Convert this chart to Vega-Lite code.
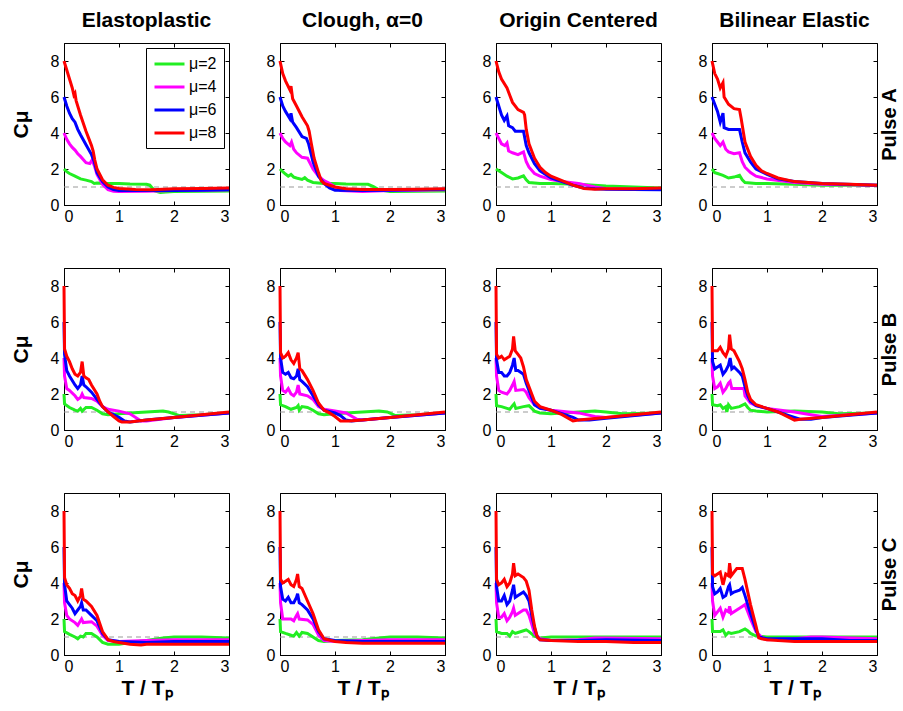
{
"$schema": "https://vega.github.io/schema/vega-lite/v6.json",
"padding": {"left": 9, "top": 9, "right": 0, "bottom": 5},
"background": "white",
"config": {
 "font": "Liberation Sans",
 "view": {"stroke": "black", "strokeWidth": 1},
 "axis": {"grid": false, "domainColor": "black", "tickColor": "black", "labelColor": "black", "labelFontSize": 16, "tickSize": -4, "titleFontSize": 21, "titleFontWeight": "bold", "titleColor": "black"},
 "axisX": {"labelPadding": 7},
 "axisY": {"labelPadding": 9},
 "title": {"fontSize": 21, "fontWeight": "bold", "color": "black", "offset": 12, "frame": "group"},
 "legend": {"strokeColor": "black", "fillColor": "white", "padding": 7, "labelFontSize": 16, "labelColor": "black", "symbolStrokeWidth": 3, "cornerRadius": 0}
},
"datasets": {
"A1": [
{"u":"μ=2","x":0,"y":2},{"u":"μ=2","x":0.05,"y":1.85},{"u":"μ=2","x":0.1,"y":1.75},{"u":"μ=2","x":0.2,"y":1.6},{"u":"μ=2","x":0.3,"y":1.45},{"u":"μ=2","x":0.4,"y":1.38},{"u":"μ=2","x":0.5,"y":1.3},{"u":"μ=2","x":0.55,"y":1.2},{"u":"μ=2","x":0.6,"y":1.22},{"u":"μ=2","x":0.8,"y":1.2},{"u":"μ=2","x":1.0,"y":1.2},{"u":"μ=2","x":1.2,"y":1.17},{"u":"μ=2","x":1.5,"y":1.15},{"u":"μ=2","x":1.56,"y":1.1},{"u":"μ=2","x":1.65,"y":0.78},{"u":"μ=2","x":1.75,"y":0.7},{"u":"μ=2","x":1.85,"y":0.72},{"u":"μ=2","x":2.0,"y":0.75},{"u":"μ=2","x":2.5,"y":0.76},{"u":"μ=2","x":3,"y":0.78},
{"u":"μ=4","x":0,"y":4},{"u":"μ=4","x":0.05,"y":3.65},{"u":"μ=4","x":0.1,"y":3.4},{"u":"μ=4","x":0.15,"y":3.2},{"u":"μ=4","x":0.2,"y":3.05},{"u":"μ=4","x":0.25,"y":2.85},{"u":"μ=4","x":0.3,"y":2.7},{"u":"μ=4","x":0.4,"y":2.35},{"u":"μ=4","x":0.47,"y":2.3},{"u":"μ=4","x":0.51,"y":2.5},{"u":"μ=4","x":0.55,"y":2.2},{"u":"μ=4","x":0.6,"y":1.7},{"u":"μ=4","x":0.7,"y":1.15},{"u":"μ=4","x":0.8,"y":0.85},{"u":"μ=4","x":0.9,"y":0.76},{"u":"μ=4","x":1.0,"y":0.75},{"u":"μ=4","x":1.5,"y":0.76},{"u":"μ=4","x":2,"y":0.8},{"u":"μ=4","x":2.5,"y":0.82},{"u":"μ=4","x":3,"y":0.85},
{"u":"μ=6","x":0,"y":6},{"u":"μ=6","x":0.05,"y":5.5},{"u":"μ=6","x":0.1,"y":5.1},{"u":"μ=6","x":0.15,"y":4.8},{"u":"μ=6","x":0.2,"y":4.6},{"u":"μ=6","x":0.25,"y":4.2},{"u":"μ=6","x":0.3,"y":3.9},{"u":"μ=6","x":0.4,"y":3.35},{"u":"μ=6","x":0.5,"y":2.8},{"u":"μ=6","x":0.55,"y":2.4},{"u":"μ=6","x":0.6,"y":1.8},{"u":"μ=6","x":0.7,"y":1.3},{"u":"μ=6","x":0.8,"y":1.0},{"u":"μ=6","x":0.9,"y":0.86},{"u":"μ=6","x":1.0,"y":0.8},{"u":"μ=6","x":1.5,"y":0.8},{"u":"μ=6","x":2,"y":0.8},{"u":"μ=6","x":2.5,"y":0.82},{"u":"μ=6","x":3,"y":0.85},
{"u":"μ=8","x":0,"y":8},{"u":"μ=8","x":0.05,"y":7.5},{"u":"μ=8","x":0.1,"y":7.0},{"u":"μ=8","x":0.15,"y":6.5},{"u":"μ=8","x":0.18,"y":6.1},{"u":"μ=8","x":0.2,"y":6.2},{"u":"μ=8","x":0.22,"y":5.8},{"u":"μ=8","x":0.3,"y":5.0},{"u":"μ=8","x":0.4,"y":4.1},{"u":"μ=8","x":0.45,"y":3.7},{"u":"μ=8","x":0.5,"y":3.3},{"u":"μ=8","x":0.53,"y":3.0},{"u":"μ=8","x":0.56,"y":2.5},{"u":"μ=8","x":0.6,"y":2.0},{"u":"μ=8","x":0.7,"y":1.4},{"u":"μ=8","x":0.8,"y":1.1},{"u":"μ=8","x":0.9,"y":0.98},{"u":"μ=8","x":1.0,"y":0.92},{"u":"μ=8","x":1.3,"y":0.86},{"u":"μ=8","x":1.6,"y":0.85},{"u":"μ=8","x":2,"y":0.9},{"u":"μ=8","x":2.5,"y":0.92},{"u":"μ=8","x":3,"y":0.95}
],
"A2": [
{"u":"μ=2","x":0,"y":2},{"u":"μ=2","x":0.05,"y":1.85},{"u":"μ=2","x":0.1,"y":1.72},{"u":"μ=2","x":0.15,"y":1.6},{"u":"μ=2","x":0.2,"y":1.7},{"u":"μ=2","x":0.25,"y":1.55},{"u":"μ=2","x":0.3,"y":1.5},{"u":"μ=2","x":0.4,"y":1.42},{"u":"μ=2","x":0.45,"y":1.52},{"u":"μ=2","x":0.5,"y":1.38},{"u":"μ=2","x":0.6,"y":1.25},{"u":"μ=2","x":0.8,"y":1.2},{"u":"μ=2","x":1.0,"y":1.2},{"u":"μ=2","x":1.2,"y":1.17},{"u":"μ=2","x":1.6,"y":1.15},{"u":"μ=2","x":1.7,"y":1.02},{"u":"μ=2","x":1.8,"y":0.85},{"u":"μ=2","x":2,"y":0.75},{"u":"μ=2","x":2.5,"y":0.76},{"u":"μ=2","x":3,"y":0.78},
{"u":"μ=4","x":0,"y":4},{"u":"μ=4","x":0.05,"y":3.7},{"u":"μ=4","x":0.1,"y":3.5},{"u":"μ=4","x":0.18,"y":3.3},{"u":"μ=4","x":0.21,"y":3.5},{"u":"μ=4","x":0.25,"y":3.1},{"u":"μ=4","x":0.3,"y":2.9},{"u":"μ=4","x":0.4,"y":2.65},{"u":"μ=4","x":0.5,"y":2.6},{"u":"μ=4","x":0.55,"y":2.3},{"u":"μ=4","x":0.6,"y":2.0},{"u":"μ=4","x":0.7,"y":1.6},{"u":"μ=4","x":0.8,"y":1.35},{"u":"μ=4","x":0.9,"y":1.2},{"u":"μ=4","x":1.0,"y":1.0},{"u":"μ=4","x":1.1,"y":0.8},{"u":"μ=4","x":1.5,"y":0.75},{"u":"μ=4","x":2,"y":0.8},{"u":"μ=4","x":2.5,"y":0.82},{"u":"μ=4","x":3,"y":0.85},
{"u":"μ=6","x":0,"y":6},{"u":"μ=6","x":0.05,"y":5.5},{"u":"μ=6","x":0.1,"y":5.2},{"u":"μ=6","x":0.18,"y":4.8},{"u":"μ=6","x":0.2,"y":5.1},{"u":"μ=6","x":0.23,"y":4.6},{"u":"μ=6","x":0.3,"y":4.3},{"u":"μ=6","x":0.4,"y":3.8},{"u":"μ=6","x":0.48,"y":3.7},{"u":"μ=6","x":0.52,"y":3.4},{"u":"μ=6","x":0.6,"y":2.4},{"u":"μ=6","x":0.7,"y":1.6},{"u":"μ=6","x":0.8,"y":1.2},{"u":"μ=6","x":0.9,"y":0.95},{"u":"μ=6","x":1.0,"y":0.82},{"u":"μ=6","x":1.5,"y":0.8},{"u":"μ=6","x":2,"y":0.82},{"u":"μ=6","x":2.5,"y":0.85},{"u":"μ=6","x":3,"y":0.88},
{"u":"μ=8","x":0,"y":8},{"u":"μ=8","x":0.05,"y":7.3},{"u":"μ=8","x":0.1,"y":6.9},{"u":"μ=8","x":0.18,"y":6.4},{"u":"μ=8","x":0.2,"y":6.6},{"u":"μ=8","x":0.23,"y":5.9},{"u":"μ=8","x":0.3,"y":5.5},{"u":"μ=8","x":0.4,"y":4.9},{"u":"μ=8","x":0.5,"y":4.4},{"u":"μ=8","x":0.53,"y":4.1},{"u":"μ=8","x":0.57,"y":3.4},{"u":"μ=8","x":0.62,"y":2.6},{"u":"μ=8","x":0.7,"y":1.8},{"u":"μ=8","x":0.75,"y":1.35},{"u":"μ=8","x":0.8,"y":1.2},{"u":"μ=8","x":0.9,"y":1.1},{"u":"μ=8","x":1.0,"y":1.0},{"u":"μ=8","x":1.2,"y":0.9},{"u":"μ=8","x":1.5,"y":0.86},{"u":"μ=8","x":2,"y":0.86},{"u":"μ=8","x":2.5,"y":0.88},{"u":"μ=8","x":3,"y":0.9}
],
"A3": [
{"u":"μ=2","x":0,"y":2},{"u":"μ=2","x":0.05,"y":1.9},{"u":"μ=2","x":0.1,"y":1.8},{"u":"μ=2","x":0.2,"y":1.6},{"u":"μ=2","x":0.3,"y":1.45},{"u":"μ=2","x":0.4,"y":1.5},{"u":"μ=2","x":0.5,"y":1.62},{"u":"μ=2","x":0.55,"y":1.4},{"u":"μ=2","x":0.6,"y":1.25},{"u":"μ=2","x":0.8,"y":1.2},{"u":"μ=2","x":1.0,"y":1.2},{"u":"μ=2","x":1.5,"y":1.15},{"u":"μ=2","x":2,"y":1.05},{"u":"μ=2","x":2.5,"y":1.0},{"u":"μ=2","x":3,"y":0.95},
{"u":"μ=4","x":0,"y":4},{"u":"μ=4","x":0.05,"y":3.7},{"u":"μ=4","x":0.1,"y":3.4},{"u":"μ=4","x":0.16,"y":3.3},{"u":"μ=4","x":0.2,"y":3.45},{"u":"μ=4","x":0.23,"y":3.0},{"u":"μ=4","x":0.3,"y":2.9},{"u":"μ=4","x":0.4,"y":2.8},{"u":"μ=4","x":0.5,"y":2.95},{"u":"μ=4","x":0.55,"y":2.4},{"u":"μ=4","x":0.6,"y":2.1},{"u":"μ=4","x":0.7,"y":1.75},{"u":"μ=4","x":0.8,"y":1.6},{"u":"μ=4","x":1.0,"y":1.42},{"u":"μ=4","x":1.2,"y":1.3},{"u":"μ=4","x":1.5,"y":1.2},{"u":"μ=4","x":1.8,"y":1.0},{"u":"μ=4","x":2,"y":0.9},{"u":"μ=4","x":2.5,"y":0.88},{"u":"μ=4","x":3,"y":0.9},
{"u":"μ=6","x":0,"y":6},{"u":"μ=6","x":0.05,"y":5.5},{"u":"μ=6","x":0.1,"y":5.0},{"u":"μ=6","x":0.15,"y":4.7},{"u":"μ=6","x":0.2,"y":4.95},{"u":"μ=6","x":0.23,"y":4.4},{"u":"μ=6","x":0.3,"y":4.3},{"u":"μ=6","x":0.35,"y":4.1},{"u":"μ=6","x":0.5,"y":4.1},{"u":"μ=6","x":0.55,"y":3.3},{"u":"μ=6","x":0.6,"y":2.9},{"u":"μ=6","x":0.7,"y":2.3},{"u":"μ=6","x":0.8,"y":1.9},{"u":"μ=6","x":1.0,"y":1.5},{"u":"μ=6","x":1.2,"y":1.3},{"u":"μ=6","x":1.4,"y":1.1},{"u":"μ=6","x":1.6,"y":0.95},{"u":"μ=6","x":1.8,"y":0.9},{"u":"μ=6","x":2,"y":0.87},{"u":"μ=6","x":3,"y":0.85},
{"u":"μ=8","x":0,"y":8},{"u":"μ=8","x":0.05,"y":7.4},{"u":"μ=8","x":0.1,"y":7.0},{"u":"μ=8","x":0.2,"y":6.5},{"u":"μ=8","x":0.25,"y":6.1},{"u":"μ=8","x":0.3,"y":5.7},{"u":"μ=8","x":0.4,"y":5.3},{"u":"μ=8","x":0.5,"y":5.15},{"u":"μ=8","x":0.52,"y":5.0},{"u":"μ=8","x":0.55,"y":4.2},{"u":"μ=8","x":0.6,"y":3.4},{"u":"μ=8","x":0.7,"y":2.6},{"u":"μ=8","x":0.8,"y":2.1},{"u":"μ=8","x":0.9,"y":1.8},{"u":"μ=8","x":1.0,"y":1.6},{"u":"μ=8","x":1.2,"y":1.35},{"u":"μ=8","x":1.4,"y":1.1},{"u":"μ=8","x":1.6,"y":0.92},{"u":"μ=8","x":1.8,"y":0.87},{"u":"μ=8","x":2,"y":0.9},{"u":"μ=8","x":2.5,"y":0.9},{"u":"μ=8","x":3,"y":0.95}
],
"A4": [
{"u":"μ=2","x":0,"y":2},{"u":"μ=2","x":0.05,"y":1.8},{"u":"μ=2","x":0.1,"y":1.75},{"u":"μ=2","x":0.2,"y":1.65},{"u":"μ=2","x":0.3,"y":1.5},{"u":"μ=2","x":0.4,"y":1.55},{"u":"μ=2","x":0.5,"y":1.65},{"u":"μ=2","x":0.55,"y":1.4},{"u":"μ=2","x":0.6,"y":1.25},{"u":"μ=2","x":0.8,"y":1.2},{"u":"μ=2","x":1.0,"y":1.2},{"u":"μ=2","x":1.5,"y":1.15},{"u":"μ=2","x":2,"y":1.1},{"u":"μ=2","x":3,"y":1.1},
{"u":"μ=4","x":0,"y":4},{"u":"μ=4","x":0.05,"y":3.7},{"u":"μ=4","x":0.1,"y":3.5},{"u":"μ=4","x":0.15,"y":3.3},{"u":"μ=4","x":0.2,"y":3.5},{"u":"μ=4","x":0.25,"y":3.1},{"u":"μ=4","x":0.3,"y":2.95},{"u":"μ=4","x":0.4,"y":2.85},{"u":"μ=4","x":0.5,"y":2.9},{"u":"μ=4","x":0.55,"y":2.4},{"u":"μ=4","x":0.6,"y":2.1},{"u":"μ=4","x":0.7,"y":1.8},{"u":"μ=4","x":0.8,"y":1.6},{"u":"μ=4","x":1.0,"y":1.45},{"u":"μ=4","x":1.5,"y":1.25},{"u":"μ=4","x":2,"y":1.15},{"u":"μ=4","x":3,"y":1.1},
{"u":"μ=6","x":0,"y":6},{"u":"μ=6","x":0.05,"y":5.6},{"u":"μ=6","x":0.1,"y":5.2},{"u":"μ=6","x":0.15,"y":4.6},{"u":"μ=6","x":0.2,"y":5.1},{"u":"μ=6","x":0.22,"y":4.3},{"u":"μ=6","x":0.3,"y":4.2},{"u":"μ=6","x":0.5,"y":4.2},{"u":"μ=6","x":0.55,"y":3.5},{"u":"μ=6","x":0.6,"y":2.9},{"u":"μ=6","x":0.7,"y":2.4},{"u":"μ=6","x":0.8,"y":2.0},{"u":"μ=6","x":1.0,"y":1.7},{"u":"μ=6","x":1.2,"y":1.45},{"u":"μ=6","x":1.5,"y":1.3},{"u":"μ=6","x":2,"y":1.2},{"u":"μ=6","x":3,"y":1.1},
{"u":"μ=8","x":0,"y":8},{"u":"μ=8","x":0.05,"y":7.3},{"u":"μ=8","x":0.1,"y":7.0},{"u":"μ=8","x":0.15,"y":6.5},{"u":"μ=8","x":0.2,"y":6.8},{"u":"μ=8","x":0.22,"y":6.0},{"u":"μ=8","x":0.3,"y":5.6},{"u":"μ=8","x":0.4,"y":5.35},{"u":"μ=8","x":0.5,"y":5.3},{"u":"μ=8","x":0.53,"y":4.8},{"u":"μ=8","x":0.6,"y":3.5},{"u":"μ=8","x":0.7,"y":2.7},{"u":"μ=8","x":0.8,"y":2.2},{"u":"μ=8","x":0.9,"y":1.9},{"u":"μ=8","x":1.0,"y":1.75},{"u":"μ=8","x":1.2,"y":1.5},{"u":"μ=8","x":1.5,"y":1.3},{"u":"μ=8","x":2,"y":1.2},{"u":"μ=8","x":2.5,"y":1.15},{"u":"μ=8","x":3,"y":1.1}
],
"B1": [
{"u":"μ=2","x":0,"y":2},{"u":"μ=2","x":0.01,"y":1.45},{"u":"μ=2","x":0.1,"y":1.25},{"u":"μ=2","x":0.2,"y":1.1},{"u":"μ=2","x":0.25,"y":1.05},{"u":"μ=2","x":0.3,"y":1.2},{"u":"μ=2","x":0.33,"y":1.05},{"u":"μ=2","x":0.4,"y":1.25},{"u":"μ=2","x":0.5,"y":1.25},{"u":"μ=2","x":0.6,"y":1.1},{"u":"μ=2","x":0.7,"y":0.9},{"u":"μ=2","x":0.8,"y":0.85},{"u":"μ=2","x":1.0,"y":0.9},{"u":"μ=2","x":1.2,"y":0.95},{"u":"μ=2","x":1.5,"y":1.0},{"u":"μ=2","x":1.8,"y":1.05},{"u":"μ=2","x":1.9,"y":1.0},{"u":"μ=2","x":2.1,"y":0.8},{"u":"μ=2","x":2.5,"y":0.85},{"u":"μ=2","x":3,"y":0.95},
{"u":"μ=4","x":0,"y":4},{"u":"μ=4","x":0.01,"y":3.0},{"u":"μ=4","x":0.05,"y":2.3},{"u":"μ=4","x":0.1,"y":2.2},{"u":"μ=4","x":0.2,"y":1.9},{"u":"μ=4","x":0.25,"y":1.7},{"u":"μ=4","x":0.3,"y":1.8},{"u":"μ=4","x":0.33,"y":2.0},{"u":"μ=4","x":0.36,"y":1.8},{"u":"μ=4","x":0.5,"y":1.75},{"u":"μ=4","x":0.6,"y":1.6},{"u":"μ=4","x":0.7,"y":1.3},{"u":"μ=4","x":0.8,"y":1.15},{"u":"μ=4","x":1.0,"y":1.05},{"u":"μ=4","x":1.2,"y":0.9},{"u":"μ=4","x":1.4,"y":0.5},{"u":"μ=4","x":1.5,"y":0.5},{"u":"μ=4","x":2,"y":0.7},{"u":"μ=4","x":3,"y":0.95},
{"u":"μ=6","x":0,"y":6},{"u":"μ=6","x":0.01,"y":4.2},{"u":"μ=6","x":0.05,"y":3.3},{"u":"μ=6","x":0.1,"y":3.0},{"u":"μ=6","x":0.2,"y":2.5},{"u":"μ=6","x":0.25,"y":2.3},{"u":"μ=6","x":0.3,"y":2.5},{"u":"μ=6","x":0.33,"y":3.0},{"u":"μ=6","x":0.36,"y":2.5},{"u":"μ=6","x":0.4,"y":2.4},{"u":"μ=6","x":0.5,"y":2.1},{"u":"μ=6","x":0.6,"y":1.7},{"u":"μ=6","x":0.7,"y":1.3},{"u":"μ=6","x":0.8,"y":1.0},{"u":"μ=6","x":0.9,"y":0.85},{"u":"μ=6","x":1.0,"y":0.7},{"u":"μ=6","x":1.1,"y":0.5},{"u":"μ=6","x":1.2,"y":0.45},{"u":"μ=6","x":1.5,"y":0.55},{"u":"μ=6","x":2,"y":0.7},{"u":"μ=6","x":3,"y":0.95},
{"u":"μ=8","x":0,"y":8},{"u":"μ=8","x":0.01,"y":4.5},{"u":"μ=8","x":0.05,"y":4.1},{"u":"μ=8","x":0.1,"y":3.8},{"u":"μ=8","x":0.15,"y":3.4},{"u":"μ=8","x":0.2,"y":3.1},{"u":"μ=8","x":0.25,"y":3.0},{"u":"μ=8","x":0.3,"y":3.2},{"u":"μ=8","x":0.33,"y":3.8},{"u":"μ=8","x":0.36,"y":3.0},{"u":"μ=8","x":0.4,"y":2.9},{"u":"μ=8","x":0.45,"y":2.8},{"u":"μ=8","x":0.5,"y":2.5},{"u":"μ=8","x":0.6,"y":2.0},{"u":"μ=8","x":0.65,"y":1.6},{"u":"μ=8","x":0.7,"y":1.3},{"u":"μ=8","x":0.8,"y":1.0},{"u":"μ=8","x":0.9,"y":0.75},{"u":"μ=8","x":1.0,"y":0.5},{"u":"μ=8","x":1.05,"y":0.45},{"u":"μ=8","x":1.2,"y":0.45},{"u":"μ=8","x":1.5,"y":0.55},{"u":"μ=8","x":2,"y":0.7},{"u":"μ=8","x":2.5,"y":0.85},{"u":"μ=8","x":3,"y":1.0}
],
"B2": [
{"u":"μ=2","x":0,"y":2},{"u":"μ=2","x":0.01,"y":1.4},{"u":"μ=2","x":0.1,"y":1.3},{"u":"μ=2","x":0.2,"y":1.15},{"u":"μ=2","x":0.3,"y":1.25},{"u":"μ=2","x":0.33,"y":1.35},{"u":"μ=2","x":0.35,"y":1.1},{"u":"μ=2","x":0.4,"y":1.3},{"u":"μ=2","x":0.5,"y":1.25},{"u":"μ=2","x":0.6,"y":1.1},{"u":"μ=2","x":0.7,"y":0.9},{"u":"μ=2","x":0.8,"y":0.85},{"u":"μ=2","x":1.0,"y":0.9},{"u":"μ=2","x":1.2,"y":0.95},{"u":"μ=2","x":1.5,"y":1.0},{"u":"μ=2","x":1.8,"y":1.05},{"u":"μ=2","x":1.95,"y":1.0},{"u":"μ=2","x":2.1,"y":0.8},{"u":"μ=2","x":2.5,"y":0.85},{"u":"μ=2","x":3,"y":0.95},
{"u":"μ=4","x":0,"y":4},{"u":"μ=4","x":0.01,"y":3.0},{"u":"μ=4","x":0.05,"y":2.2},{"u":"μ=4","x":0.1,"y":2.1},{"u":"μ=4","x":0.15,"y":2.3},{"u":"μ=4","x":0.2,"y":2.0},{"u":"μ=4","x":0.25,"y":1.9},{"u":"μ=4","x":0.3,"y":2.1},{"u":"μ=4","x":0.33,"y":2.5},{"u":"μ=4","x":0.36,"y":2.0},{"u":"μ=4","x":0.5,"y":1.9},{"u":"μ=4","x":0.6,"y":1.7},{"u":"μ=4","x":0.7,"y":1.3},{"u":"μ=4","x":0.8,"y":1.15},{"u":"μ=4","x":1.0,"y":1.05},{"u":"μ=4","x":1.2,"y":0.95},{"u":"μ=4","x":1.4,"y":0.6},{"u":"μ=4","x":1.5,"y":0.55},{"u":"μ=4","x":2,"y":0.7},{"u":"μ=4","x":3,"y":0.95},
{"u":"μ=6","x":0,"y":6},{"u":"μ=6","x":0.01,"y":4.0},{"u":"μ=6","x":0.05,"y":3.2},{"u":"μ=6","x":0.1,"y":3.1},{"u":"μ=6","x":0.15,"y":3.2},{"u":"μ=6","x":0.2,"y":2.9},{"u":"μ=6","x":0.25,"y":2.85},{"u":"μ=6","x":0.3,"y":3.0},{"u":"μ=6","x":0.33,"y":3.4},{"u":"μ=6","x":0.36,"y":2.8},{"u":"μ=6","x":0.4,"y":2.7},{"u":"μ=6","x":0.5,"y":2.4},{"u":"μ=6","x":0.6,"y":1.9},{"u":"μ=6","x":0.7,"y":1.4},{"u":"μ=6","x":0.8,"y":1.1},{"u":"μ=6","x":1.0,"y":0.95},{"u":"μ=6","x":1.1,"y":0.8},{"u":"μ=6","x":1.2,"y":0.55},{"u":"μ=6","x":1.3,"y":0.5},{"u":"μ=6","x":1.5,"y":0.55},{"u":"μ=6","x":2,"y":0.7},{"u":"μ=6","x":3,"y":0.95},
{"u":"μ=8","x":0,"y":8},{"u":"μ=8","x":0.01,"y":4.3},{"u":"μ=8","x":0.05,"y":4.0},{"u":"μ=8","x":0.1,"y":4.1},{"u":"μ=8","x":0.15,"y":4.3},{"u":"μ=8","x":0.2,"y":3.9},{"u":"μ=8","x":0.25,"y":3.7},{"u":"μ=8","x":0.3,"y":4.0},{"u":"μ=8","x":0.33,"y":4.3},{"u":"μ=8","x":0.36,"y":3.4},{"u":"μ=8","x":0.4,"y":3.3},{"u":"μ=8","x":0.5,"y":2.8},{"u":"μ=8","x":0.6,"y":2.2},{"u":"μ=8","x":0.7,"y":1.5},{"u":"μ=8","x":0.8,"y":1.1},{"u":"μ=8","x":0.9,"y":0.95},{"u":"μ=8","x":1.0,"y":0.75},{"u":"μ=8","x":1.1,"y":0.5},{"u":"μ=8","x":1.25,"y":0.5},{"u":"μ=8","x":1.5,"y":0.55},{"u":"μ=8","x":2,"y":0.7},{"u":"μ=8","x":2.5,"y":0.85},{"u":"μ=8","x":3,"y":1.0}
],
"B3": [
{"u":"μ=2","x":0,"y":2},{"u":"μ=2","x":0.01,"y":1.35},{"u":"μ=2","x":0.1,"y":1.3},{"u":"μ=2","x":0.2,"y":1.2},{"u":"μ=2","x":0.25,"y":1.15},{"u":"μ=2","x":0.3,"y":1.35},{"u":"μ=2","x":0.33,"y":1.45},{"u":"μ=2","x":0.36,"y":1.2},{"u":"μ=2","x":0.5,"y":1.3},{"u":"μ=2","x":0.6,"y":1.35},{"u":"μ=2","x":0.65,"y":1.2},{"u":"μ=2","x":0.7,"y":1.05},{"u":"μ=2","x":0.8,"y":0.95},{"u":"μ=2","x":1.0,"y":0.9},{"u":"μ=2","x":1.5,"y":1.0},{"u":"μ=2","x":1.8,"y":1.05},{"u":"μ=2","x":2,"y":1.0},{"u":"μ=2","x":2.3,"y":0.9},{"u":"μ=2","x":3,"y":0.95},
{"u":"μ=4","x":0,"y":4},{"u":"μ=4","x":0.01,"y":3.0},{"u":"μ=4","x":0.05,"y":2.2},{"u":"μ=4","x":0.1,"y":2.1},{"u":"μ=4","x":0.2,"y":2.0},{"u":"μ=4","x":0.25,"y":2.2},{"u":"μ=4","x":0.3,"y":2.5},{"u":"μ=4","x":0.33,"y":2.7},{"u":"μ=4","x":0.36,"y":2.2},{"u":"μ=4","x":0.5,"y":2.25},{"u":"μ=4","x":0.55,"y":2.1},{"u":"μ=4","x":0.6,"y":1.8},{"u":"μ=4","x":0.7,"y":1.4},{"u":"μ=4","x":0.8,"y":1.25},{"u":"μ=4","x":1.0,"y":1.1},{"u":"μ=4","x":1.5,"y":0.95},{"u":"μ=4","x":1.8,"y":0.75},{"u":"μ=4","x":2,"y":0.7},{"u":"μ=4","x":3,"y":0.95},
{"u":"μ=6","x":0,"y":6},{"u":"μ=6","x":0.01,"y":3.9},{"u":"μ=6","x":0.05,"y":3.2},{"u":"μ=6","x":0.1,"y":3.2},{"u":"μ=6","x":0.15,"y":3.0},{"u":"μ=6","x":0.2,"y":3.0},{"u":"μ=6","x":0.25,"y":3.2},{"u":"μ=6","x":0.3,"y":3.6},{"u":"μ=6","x":0.33,"y":4.0},{"u":"μ=6","x":0.36,"y":3.3},{"u":"μ=6","x":0.4,"y":3.3},{"u":"μ=6","x":0.5,"y":3.1},{"u":"μ=6","x":0.55,"y":2.6},{"u":"μ=6","x":0.6,"y":2.2},{"u":"μ=6","x":0.7,"y":1.4},{"u":"μ=6","x":0.8,"y":1.2},{"u":"μ=6","x":1.0,"y":1.1},{"u":"μ=6","x":1.2,"y":0.9},{"u":"μ=6","x":1.4,"y":0.7},{"u":"μ=6","x":1.5,"y":0.55},{"u":"μ=6","x":1.7,"y":0.55},{"u":"μ=6","x":2,"y":0.65},{"u":"μ=6","x":3,"y":0.95},
{"u":"μ=8","x":0,"y":8},{"u":"μ=8","x":0.01,"y":4.2},{"u":"μ=8","x":0.05,"y":4.0},{"u":"μ=8","x":0.1,"y":4.1},{"u":"μ=8","x":0.15,"y":3.9},{"u":"μ=8","x":0.2,"y":4.0},{"u":"μ=8","x":0.25,"y":4.1},{"u":"μ=8","x":0.3,"y":4.5},{"u":"μ=8","x":0.32,"y":5.2},{"u":"μ=8","x":0.35,"y":4.4},{"u":"μ=8","x":0.4,"y":4.2},{"u":"μ=8","x":0.45,"y":4.0},{"u":"μ=8","x":0.5,"y":3.5},{"u":"μ=8","x":0.55,"y":2.8},{"u":"μ=8","x":0.6,"y":2.4},{"u":"μ=8","x":0.7,"y":1.6},{"u":"μ=8","x":0.8,"y":1.3},{"u":"μ=8","x":1.0,"y":1.1},{"u":"μ=8","x":1.2,"y":0.85},{"u":"μ=8","x":1.4,"y":0.5},{"u":"μ=8","x":1.5,"y":0.55},{"u":"μ=8","x":2,"y":0.7},{"u":"μ=8","x":2.5,"y":0.85},{"u":"μ=8","x":3,"y":1.0}
],
"B4": [
{"u":"μ=2","x":0,"y":2},{"u":"μ=2","x":0.01,"y":1.4},{"u":"μ=2","x":0.1,"y":1.35},{"u":"μ=2","x":0.15,"y":1.4},{"u":"μ=2","x":0.2,"y":1.2},{"u":"μ=2","x":0.25,"y":1.3},{"u":"μ=2","x":0.27,"y":1.0},{"u":"μ=2","x":0.3,"y":1.4},{"u":"μ=2","x":0.35,"y":1.2},{"u":"μ=2","x":0.5,"y":1.3},{"u":"μ=2","x":0.6,"y":1.45},{"u":"μ=2","x":0.65,"y":1.25},{"u":"μ=2","x":0.7,"y":1.1},{"u":"μ=2","x":0.8,"y":1.05},{"u":"μ=2","x":1.0,"y":1.0},{"u":"μ=2","x":1.5,"y":1.05},{"u":"μ=2","x":2,"y":1.0},{"u":"μ=2","x":2.3,"y":0.9},{"u":"μ=2","x":3,"y":0.95},
{"u":"μ=4","x":0,"y":4},{"u":"μ=4","x":0.01,"y":3.0},{"u":"μ=4","x":0.05,"y":2.3},{"u":"μ=4","x":0.1,"y":2.4},{"u":"μ=4","x":0.15,"y":2.6},{"u":"μ=4","x":0.2,"y":2.1},{"u":"μ=4","x":0.25,"y":2.3},{"u":"μ=4","x":0.3,"y":2.6},{"u":"μ=4","x":0.33,"y":2.7},{"u":"μ=4","x":0.36,"y":2.3},{"u":"μ=4","x":0.5,"y":2.3},{"u":"μ=4","x":0.58,"y":2.3},{"u":"μ=4","x":0.6,"y":1.9},{"u":"μ=4","x":0.7,"y":1.5},{"u":"μ=4","x":0.8,"y":1.35},{"u":"μ=4","x":1.0,"y":1.2},{"u":"μ=4","x":1.5,"y":1.0},{"u":"μ=4","x":1.8,"y":0.85},{"u":"μ=4","x":2,"y":0.75},{"u":"μ=4","x":3,"y":0.95},
{"u":"μ=6","x":0,"y":6},{"u":"μ=6","x":0.01,"y":3.8},{"u":"μ=6","x":0.05,"y":3.4},{"u":"μ=6","x":0.1,"y":3.5},{"u":"μ=6","x":0.15,"y":3.6},{"u":"μ=6","x":0.2,"y":3.1},{"u":"μ=6","x":0.25,"y":3.3},{"u":"μ=6","x":0.3,"y":3.6},{"u":"μ=6","x":0.33,"y":4.0},{"u":"μ=6","x":0.36,"y":3.4},{"u":"μ=6","x":0.4,"y":3.5},{"u":"μ=6","x":0.5,"y":3.2},{"u":"μ=6","x":0.55,"y":3.0},{"u":"μ=6","x":0.6,"y":2.4},{"u":"μ=6","x":0.65,"y":1.9},{"u":"μ=6","x":0.7,"y":1.6},{"u":"μ=6","x":0.8,"y":1.35},{"u":"μ=6","x":1.0,"y":1.2},{"u":"μ=6","x":1.2,"y":1.0},{"u":"μ=6","x":1.4,"y":0.8},{"u":"μ=6","x":1.6,"y":0.6},{"u":"μ=6","x":1.8,"y":0.6},{"u":"μ=6","x":2,"y":0.7},{"u":"μ=6","x":3,"y":0.95},
{"u":"μ=8","x":0,"y":8},{"u":"μ=8","x":0.01,"y":4.4},{"u":"μ=8","x":0.05,"y":4.4},{"u":"μ=8","x":0.1,"y":4.4},{"u":"μ=8","x":0.15,"y":4.6},{"u":"μ=8","x":0.2,"y":4.3},{"u":"μ=8","x":0.25,"y":4.1},{"u":"μ=8","x":0.3,"y":4.5},{"u":"μ=8","x":0.32,"y":5.3},{"u":"μ=8","x":0.35,"y":4.5},{"u":"μ=8","x":0.4,"y":4.4},{"u":"μ=8","x":0.45,"y":4.1},{"u":"μ=8","x":0.5,"y":3.8},{"u":"μ=8","x":0.55,"y":3.4},{"u":"μ=8","x":0.6,"y":2.8},{"u":"μ=8","x":0.65,"y":2.1},{"u":"μ=8","x":0.7,"y":1.7},{"u":"μ=8","x":0.8,"y":1.4},{"u":"μ=8","x":1.0,"y":1.2},{"u":"μ=8","x":1.2,"y":1.0},{"u":"μ=8","x":1.4,"y":0.7},{"u":"μ=8","x":1.5,"y":0.55},{"u":"μ=8","x":1.6,"y":0.6},{"u":"μ=8","x":2,"y":0.7},{"u":"μ=8","x":2.5,"y":0.85},{"u":"μ=8","x":3,"y":1.0}
],
"C1": [
{"u":"μ=2","x":0,"y":2},{"u":"μ=2","x":0.01,"y":1.3},{"u":"μ=2","x":0.1,"y":1.15},{"u":"μ=2","x":0.2,"y":1.0},{"u":"μ=2","x":0.25,"y":0.9},{"u":"μ=2","x":0.3,"y":1.05},{"u":"μ=2","x":0.35,"y":1.0},{"u":"μ=2","x":0.4,"y":1.2},{"u":"μ=2","x":0.5,"y":1.2},{"u":"μ=2","x":0.6,"y":1.0},{"u":"μ=2","x":0.7,"y":0.7},{"u":"μ=2","x":0.8,"y":0.6},{"u":"μ=2","x":1.0,"y":0.6},{"u":"μ=2","x":1.2,"y":0.7},{"u":"μ=2","x":1.5,"y":0.8},{"u":"μ=2","x":1.8,"y":0.95},{"u":"μ=2","x":2,"y":1.0},{"u":"μ=2","x":2.5,"y":1.0},{"u":"μ=2","x":3,"y":0.95},
{"u":"μ=4","x":0,"y":4},{"u":"μ=4","x":0.01,"y":2.9},{"u":"μ=4","x":0.05,"y":2.2},{"u":"μ=4","x":0.1,"y":2.0},{"u":"μ=4","x":0.2,"y":1.8},{"u":"μ=4","x":0.25,"y":1.65},{"u":"μ=4","x":0.3,"y":1.9},{"u":"μ=4","x":0.32,"y":2.0},{"u":"μ=4","x":0.35,"y":1.8},{"u":"μ=4","x":0.5,"y":1.85},{"u":"μ=4","x":0.6,"y":1.6},{"u":"μ=4","x":0.7,"y":1.1},{"u":"μ=4","x":0.8,"y":0.8},{"u":"μ=4","x":1.0,"y":0.75},{"u":"μ=4","x":1.5,"y":0.8},{"u":"μ=4","x":2,"y":0.85},{"u":"μ=4","x":3,"y":0.85},
{"u":"μ=6","x":0,"y":6},{"u":"μ=6","x":0.01,"y":3.9},{"u":"μ=6","x":0.05,"y":3.0},{"u":"μ=6","x":0.1,"y":2.8},{"u":"μ=6","x":0.15,"y":2.6},{"u":"μ=6","x":0.2,"y":2.3},{"u":"μ=6","x":0.25,"y":2.5},{"u":"μ=6","x":0.3,"y":2.7},{"u":"μ=6","x":0.32,"y":2.9},{"u":"μ=6","x":0.35,"y":2.5},{"u":"μ=6","x":0.4,"y":2.5},{"u":"μ=6","x":0.5,"y":2.2},{"u":"μ=6","x":0.6,"y":1.9},{"u":"μ=6","x":0.7,"y":1.2},{"u":"μ=6","x":0.8,"y":0.85},{"u":"μ=6","x":1.0,"y":0.75},{"u":"μ=6","x":1.5,"y":0.7},{"u":"μ=6","x":2,"y":0.75},{"u":"μ=6","x":3,"y":0.75},
{"u":"μ=8","x":0,"y":8},{"u":"μ=8","x":0.01,"y":4.3},{"u":"μ=8","x":0.05,"y":3.9},{"u":"μ=8","x":0.1,"y":3.7},{"u":"μ=8","x":0.15,"y":3.4},{"u":"μ=8","x":0.2,"y":3.3},{"u":"μ=8","x":0.25,"y":3.0},{"u":"μ=8","x":0.3,"y":3.3},{"u":"μ=8","x":0.32,"y":3.7},{"u":"μ=8","x":0.35,"y":3.1},{"u":"μ=8","x":0.4,"y":3.0},{"u":"μ=8","x":0.5,"y":2.7},{"u":"μ=8","x":0.6,"y":2.2},{"u":"μ=8","x":0.7,"y":1.3},{"u":"μ=8","x":0.8,"y":0.85},{"u":"μ=8","x":0.9,"y":0.75},{"u":"μ=8","x":1.0,"y":0.7},{"u":"μ=8","x":1.2,"y":0.6},{"u":"μ=8","x":1.4,"y":0.55},{"u":"μ=8","x":1.5,"y":0.6},{"u":"μ=8","x":2,"y":0.6},{"u":"μ=8","x":2.5,"y":0.6},{"u":"μ=8","x":3,"y":0.6}
],
"C2": [
{"u":"μ=2","x":0,"y":2},{"u":"μ=2","x":0.01,"y":1.3},{"u":"μ=2","x":0.1,"y":1.2},{"u":"μ=2","x":0.2,"y":1.1},{"u":"μ=2","x":0.25,"y":1.05},{"u":"μ=2","x":0.3,"y":1.25},{"u":"μ=2","x":0.35,"y":1.05},{"u":"μ=2","x":0.4,"y":1.25},{"u":"μ=2","x":0.5,"y":1.2},{"u":"μ=2","x":0.6,"y":1.0},{"u":"μ=2","x":0.7,"y":0.8},{"u":"μ=2","x":0.8,"y":0.75},{"u":"μ=2","x":1.0,"y":0.8},{"u":"μ=2","x":1.5,"y":0.85},{"u":"μ=2","x":1.8,"y":0.95},{"u":"μ=2","x":2,"y":1.0},{"u":"μ=2","x":2.5,"y":1.0},{"u":"μ=2","x":3,"y":0.95},
{"u":"μ=4","x":0,"y":4},{"u":"μ=4","x":0.01,"y":2.9},{"u":"μ=4","x":0.05,"y":2.0},{"u":"μ=4","x":0.1,"y":2.0},{"u":"μ=4","x":0.2,"y":2.0},{"u":"μ=4","x":0.25,"y":1.9},{"u":"μ=4","x":0.3,"y":2.2},{"u":"μ=4","x":0.32,"y":2.3},{"u":"μ=4","x":0.35,"y":2.0},{"u":"μ=4","x":0.5,"y":1.95},{"u":"μ=4","x":0.6,"y":1.7},{"u":"μ=4","x":0.7,"y":1.1},{"u":"μ=4","x":0.8,"y":0.8},{"u":"μ=4","x":1.0,"y":0.75},{"u":"μ=4","x":1.5,"y":0.8},{"u":"μ=4","x":2,"y":0.85},{"u":"μ=4","x":3,"y":0.85},
{"u":"μ=6","x":0,"y":6},{"u":"μ=6","x":0.01,"y":3.8},{"u":"μ=6","x":0.05,"y":3.1},{"u":"μ=6","x":0.1,"y":3.0},{"u":"μ=6","x":0.15,"y":3.2},{"u":"μ=6","x":0.2,"y":2.9},{"u":"μ=6","x":0.25,"y":2.9},{"u":"μ=6","x":0.3,"y":3.2},{"u":"μ=6","x":0.32,"y":3.4},{"u":"μ=6","x":0.35,"y":2.9},{"u":"μ=6","x":0.4,"y":2.8},{"u":"μ=6","x":0.5,"y":2.5},{"u":"μ=6","x":0.6,"y":2.0},{"u":"μ=6","x":0.7,"y":1.3},{"u":"μ=6","x":0.8,"y":0.9},{"u":"μ=6","x":1.0,"y":0.8},{"u":"μ=6","x":1.5,"y":0.75},{"u":"μ=6","x":2,"y":0.75},{"u":"μ=6","x":3,"y":0.75},
{"u":"μ=8","x":0,"y":8},{"u":"μ=8","x":0.01,"y":4.2},{"u":"μ=8","x":0.05,"y":4.0},{"u":"μ=8","x":0.1,"y":4.1},{"u":"μ=8","x":0.15,"y":4.2},{"u":"μ=8","x":0.2,"y":3.9},{"u":"μ=8","x":0.25,"y":3.8},{"u":"μ=8","x":0.3,"y":4.2},{"u":"μ=8","x":0.32,"y":4.5},{"u":"μ=8","x":0.35,"y":3.8},{"u":"μ=8","x":0.4,"y":3.7},{"u":"μ=8","x":0.5,"y":3.0},{"u":"μ=8","x":0.6,"y":2.3},{"u":"μ=8","x":0.7,"y":1.4},{"u":"μ=8","x":0.8,"y":0.9},{"u":"μ=8","x":1.0,"y":0.75},{"u":"μ=8","x":1.2,"y":0.7},{"u":"μ=8","x":1.5,"y":0.65},{"u":"μ=8","x":2,"y":0.65},{"u":"μ=8","x":2.5,"y":0.65},{"u":"μ=8","x":3,"y":0.65}
],
"C3": [
{"u":"μ=2","x":0,"y":2},{"u":"μ=2","x":0.01,"y":1.3},{"u":"μ=2","x":0.1,"y":1.2},{"u":"μ=2","x":0.2,"y":1.2},{"u":"μ=2","x":0.25,"y":1.05},{"u":"μ=2","x":0.3,"y":1.3},{"u":"μ=2","x":0.35,"y":1.2},{"u":"μ=2","x":0.4,"y":1.25},{"u":"μ=2","x":0.5,"y":1.35},{"u":"μ=2","x":0.55,"y":1.4},{"u":"μ=2","x":0.6,"y":1.3},{"u":"μ=2","x":0.7,"y":1.05},{"u":"μ=2","x":0.8,"y":0.95},{"u":"μ=2","x":1.0,"y":1.0},{"u":"μ=2","x":1.5,"y":1.0},{"u":"μ=2","x":2,"y":1.0},{"u":"μ=2","x":3,"y":1.0},
{"u":"μ=4","x":0,"y":4},{"u":"μ=4","x":0.01,"y":2.9},{"u":"μ=4","x":0.05,"y":2.1},{"u":"μ=4","x":0.1,"y":2.1},{"u":"μ=4","x":0.15,"y":2.3},{"u":"μ=4","x":0.2,"y":1.9},{"u":"μ=4","x":0.25,"y":2.1},{"u":"μ=4","x":0.3,"y":2.4},{"u":"μ=4","x":0.32,"y":2.6},{"u":"μ=4","x":0.35,"y":2.2},{"u":"μ=4","x":0.4,"y":2.3},{"u":"μ=4","x":0.5,"y":2.5},{"u":"μ=4","x":0.55,"y":2.5},{"u":"μ=4","x":0.6,"y":2.2},{"u":"μ=4","x":0.65,"y":1.7},{"u":"μ=4","x":0.7,"y":1.2},{"u":"μ=4","x":0.8,"y":0.9},{"u":"μ=4","x":1.0,"y":0.8},{"u":"μ=4","x":1.5,"y":0.85},{"u":"μ=4","x":1.8,"y":0.95},{"u":"μ=4","x":2,"y":0.95},{"u":"μ=4","x":3,"y":0.9},
{"u":"μ=6","x":0,"y":6},{"u":"μ=6","x":0.01,"y":3.8},{"u":"μ=6","x":0.05,"y":3.0},{"u":"μ=6","x":0.1,"y":3.0},{"u":"μ=6","x":0.15,"y":3.3},{"u":"μ=6","x":0.2,"y":2.8},{"u":"μ=6","x":0.25,"y":3.0},{"u":"μ=6","x":0.3,"y":3.6},{"u":"μ=6","x":0.32,"y":3.9},{"u":"μ=6","x":0.35,"y":3.2},{"u":"μ=6","x":0.4,"y":3.3},{"u":"μ=6","x":0.5,"y":3.5},{"u":"μ=6","x":0.55,"y":3.3},{"u":"μ=6","x":0.6,"y":3.0},{"u":"μ=6","x":0.65,"y":2.2},{"u":"μ=6","x":0.7,"y":1.5},{"u":"μ=6","x":0.75,"y":1.0},{"u":"μ=6","x":0.8,"y":0.85},{"u":"μ=6","x":1.0,"y":0.8},{"u":"μ=6","x":1.5,"y":0.8},{"u":"μ=6","x":2,"y":0.85},{"u":"μ=6","x":3,"y":0.8},
{"u":"μ=8","x":0,"y":8},{"u":"μ=8","x":0.01,"y":4.2},{"u":"μ=8","x":0.05,"y":3.9},{"u":"μ=8","x":0.1,"y":4.0},{"u":"μ=8","x":0.15,"y":4.2},{"u":"μ=8","x":0.2,"y":3.8},{"u":"μ=8","x":0.25,"y":4.0},{"u":"μ=8","x":0.3,"y":4.5},{"u":"μ=8","x":0.32,"y":5.1},{"u":"μ=8","x":0.35,"y":4.4},{"u":"μ=8","x":0.4,"y":4.5},{"u":"μ=8","x":0.5,"y":4.3},{"u":"μ=8","x":0.55,"y":4.1},{"u":"μ=8","x":0.6,"y":3.6},{"u":"μ=8","x":0.65,"y":2.5},{"u":"μ=8","x":0.7,"y":1.6},{"u":"μ=8","x":0.75,"y":1.0},{"u":"μ=8","x":0.8,"y":0.85},{"u":"μ=8","x":1.0,"y":0.8},{"u":"μ=8","x":1.5,"y":0.75},{"u":"μ=8","x":2,"y":0.75},{"u":"μ=8","x":2.5,"y":0.7},{"u":"μ=8","x":3,"y":0.7}
],
"C4": [
{"u":"μ=2","x":0,"y":2},{"u":"μ=2","x":0.01,"y":1.3},{"u":"μ=2","x":0.1,"y":1.3},{"u":"μ=2","x":0.15,"y":1.3},{"u":"μ=2","x":0.2,"y":1.4},{"u":"μ=2","x":0.25,"y":1.1},{"u":"μ=2","x":0.3,"y":1.25},{"u":"μ=2","x":0.35,"y":1.2},{"u":"μ=2","x":0.5,"y":1.3},{"u":"μ=2","x":0.6,"y":1.45},{"u":"μ=2","x":0.65,"y":1.35},{"u":"μ=2","x":0.7,"y":1.2},{"u":"μ=2","x":0.8,"y":1.05},{"u":"μ=2","x":1.0,"y":1.0},{"u":"μ=2","x":1.5,"y":1.0},{"u":"μ=2","x":2,"y":1.0},{"u":"μ=2","x":3,"y":1.0},
{"u":"μ=4","x":0,"y":4},{"u":"μ=4","x":0.01,"y":3.0},{"u":"μ=4","x":0.05,"y":2.2},{"u":"μ=4","x":0.1,"y":2.4},{"u":"μ=4","x":0.15,"y":2.6},{"u":"μ=4","x":0.2,"y":2.1},{"u":"μ=4","x":0.25,"y":2.5},{"u":"μ=4","x":0.3,"y":2.4},{"u":"μ=4","x":0.32,"y":2.7},{"u":"μ=4","x":0.35,"y":2.3},{"u":"μ=4","x":0.45,"y":2.5},{"u":"μ=4","x":0.55,"y":2.7},{"u":"μ=4","x":0.6,"y":2.8},{"u":"μ=4","x":0.65,"y":2.4},{"u":"μ=4","x":0.7,"y":2.0},{"u":"μ=4","x":0.8,"y":1.3},{"u":"μ=4","x":0.9,"y":1.0},{"u":"μ=4","x":1.0,"y":0.85},{"u":"μ=4","x":1.5,"y":0.9},{"u":"μ=4","x":1.8,"y":1.0},{"u":"μ=4","x":2,"y":1.0},{"u":"μ=4","x":3,"y":0.9},
{"u":"μ=6","x":0,"y":6},{"u":"μ=6","x":0.01,"y":3.8},{"u":"μ=6","x":0.05,"y":3.4},{"u":"μ=6","x":0.1,"y":3.5},{"u":"μ=6","x":0.15,"y":3.7},{"u":"μ=6","x":0.2,"y":3.2},{"u":"μ=6","x":0.25,"y":3.3},{"u":"μ=6","x":0.3,"y":3.8},{"u":"μ=6","x":0.32,"y":3.9},{"u":"μ=6","x":0.35,"y":3.4},{"u":"μ=6","x":0.4,"y":3.5},{"u":"μ=6","x":0.5,"y":3.6},{"u":"μ=6","x":0.55,"y":3.75},{"u":"μ=6","x":0.6,"y":3.3},{"u":"μ=6","x":0.7,"y":2.3},{"u":"μ=6","x":0.8,"y":1.4},{"u":"μ=6","x":0.85,"y":1.0},{"u":"μ=6","x":1.0,"y":0.9},{"u":"μ=6","x":1.5,"y":0.9},{"u":"μ=6","x":2,"y":0.9},{"u":"μ=6","x":2.5,"y":0.8},{"u":"μ=6","x":3,"y":0.8},
{"u":"μ=8","x":0,"y":8},{"u":"μ=8","x":0.01,"y":4.5},{"u":"μ=8","x":0.05,"y":4.4},{"u":"μ=8","x":0.1,"y":4.5},{"u":"μ=8","x":0.15,"y":4.6},{"u":"μ=8","x":0.2,"y":3.9},{"u":"μ=8","x":0.25,"y":4.5},{"u":"μ=8","x":0.3,"y":4.4},{"u":"μ=8","x":0.32,"y":5.1},{"u":"μ=8","x":0.35,"y":4.4},{"u":"μ=8","x":0.4,"y":4.6},{"u":"μ=8","x":0.45,"y":4.8},{"u":"μ=8","x":0.55,"y":4.8},{"u":"μ=8","x":0.6,"y":4.2},{"u":"μ=8","x":0.7,"y":2.8},{"u":"μ=8","x":0.8,"y":1.6},{"u":"μ=8","x":0.85,"y":0.95},{"u":"μ=8","x":0.9,"y":0.9},{"u":"μ=8","x":1.0,"y":0.85},{"u":"μ=8","x":1.2,"y":0.8},{"u":"μ=8","x":1.5,"y":0.75},{"u":"μ=8","x":2,"y":0.75},{"u":"μ=8","x":3,"y":0.75}
]
},
"columns": 4,
"spacing": {"row": 63, "column": 51},
"bounds": "flush",
"resolve": {"legend": {"color": "independent"}},
"concat": [
{"width":165,"height":162,"title":"Elastoplastic","layer":[
 {"data":{"values":[{}]},"mark":{"type":"rule","color":"#999999","strokeDash":[5,4],"strokeWidth":1},"encoding":{"x":{"datum":0,"type":"quantitative","scale":{"domain":[0,3]},"axis":{"orient":"top","labels":false,"title":null,"values":[0,1,2,3],"domain":false}},"x2":{"datum":3},"y":{"datum":1,"type":"quantitative","scale":{"domain":[0,9]},"axis":{"orient":"right","labels":false,"title":null,"values":[0,2,4,6,8],"domain":false}}}},
 {"data":{"name":"A1"},"mark":{"type":"line","strokeWidth":3},"encoding":{"x":{"field":"x","type":"quantitative","scale":{"domain":[0,3]},"axis":{"values":[0,1,2,3],"title":null}},"y":{"field":"y","type":"quantitative","scale":{"domain":[0,9]},"axis":{"values":[0,2,4,6,8],"title":"Cμ","titlePadding":19}},"color":{"field":"u","type":"nominal","scale":{"domain":["μ=2","μ=4","μ=6","μ=8"],"range":["#22ee22","#ff00ff","#0000ff","#ff0000"]},"legend":{"orient":"top-right","offset":5,"title":null,"symbolType":"M-1,0H3","symbolSize":225,"symbolStrokeWidth":3,"symbolFillColor":"transparent","labelOffset":18,"rowPadding":6}}}}
 ],"resolve":{"axis":{"x":"independent","y":"independent"}}},
{"width":165,"height":162,"title":"Clough, α=0","layer":[
 {"data":{"values":[{}]},"mark":{"type":"rule","color":"#999999","strokeDash":[5,4],"strokeWidth":1},"encoding":{"x":{"datum":0,"type":"quantitative","scale":{"domain":[0,3]},"axis":{"orient":"top","labels":false,"title":null,"values":[0,1,2,3],"domain":false}},"x2":{"datum":3},"y":{"datum":1,"type":"quantitative","scale":{"domain":[0,9]},"axis":{"orient":"right","labels":false,"title":null,"values":[0,2,4,6,8],"domain":false}}}},
 {"data":{"name":"A2"},"mark":{"type":"line","strokeWidth":3},"encoding":{"x":{"field":"x","type":"quantitative","scale":{"domain":[0,3]},"axis":{"values":[0,1,2,3],"title":null}},"y":{"field":"y","type":"quantitative","scale":{"domain":[0,9]},"axis":{"values":[0,2,4,6,8],"title":null}},"color":{"field":"u","type":"nominal","scale":{"domain":["μ=2","μ=4","μ=6","μ=8"],"range":["#22ee22","#ff00ff","#0000ff","#ff0000"]},"legend":null}}}
 ],"resolve":{"axis":{"x":"independent","y":"independent"}}},
{"width":165,"height":162,"title":"Origin Centered","layer":[
 {"data":{"values":[{}]},"mark":{"type":"rule","color":"#999999","strokeDash":[5,4],"strokeWidth":1},"encoding":{"x":{"datum":0,"type":"quantitative","scale":{"domain":[0,3]},"axis":{"orient":"top","labels":false,"title":null,"values":[0,1,2,3],"domain":false}},"x2":{"datum":3},"y":{"datum":1,"type":"quantitative","scale":{"domain":[0,9]},"axis":{"orient":"right","labels":false,"title":null,"values":[0,2,4,6,8],"domain":false}}}},
 {"data":{"name":"A3"},"mark":{"type":"line","strokeWidth":3},"encoding":{"x":{"field":"x","type":"quantitative","scale":{"domain":[0,3]},"axis":{"values":[0,1,2,3],"title":null}},"y":{"field":"y","type":"quantitative","scale":{"domain":[0,9]},"axis":{"values":[0,2,4,6,8],"title":null}},"color":{"field":"u","type":"nominal","scale":{"domain":["μ=2","μ=4","μ=6","μ=8"],"range":["#22ee22","#ff00ff","#0000ff","#ff0000"]},"legend":null}}}
 ],"resolve":{"axis":{"x":"independent","y":"independent"}}},
{"width":165,"height":162,"title":"Bilinear Elastic","layer":[
 {"data":{"values":[{}]},"mark":{"type":"rule","color":"#999999","strokeDash":[5,4],"strokeWidth":1},"encoding":{"x":{"datum":0,"type":"quantitative","scale":{"domain":[0,3]},"axis":{"orient":"top","labels":false,"title":null,"values":[0,1,2,3],"domain":false}},"x2":{"datum":3},"y":{"datum":1,"type":"quantitative","scale":{"domain":[0,9]},"axis":{"orient":"right","labels":false,"title":"Pulse A","titleAngle":270,"titleBaseline":"top","titleFontSize":20,"titlePadding":2,"values":[0,2,4,6,8],"domain":false}}}},
 {"data":{"name":"A4"},"mark":{"type":"line","strokeWidth":3},"encoding":{"x":{"field":"x","type":"quantitative","scale":{"domain":[0,3]},"axis":{"values":[0,1,2,3],"title":null}},"y":{"field":"y","type":"quantitative","scale":{"domain":[0,9]},"axis":{"values":[0,2,4,6,8],"title":null}},"color":{"field":"u","type":"nominal","scale":{"domain":["μ=2","μ=4","μ=6","μ=8"],"range":["#22ee22","#ff00ff","#0000ff","#ff0000"]},"legend":null}}}
 ],"resolve":{"axis":{"x":"independent","y":"independent"}}},
{"width":165,"height":162,"layer":[
 {"data":{"values":[{}]},"mark":{"type":"rule","color":"#999999","strokeDash":[5,4],"strokeWidth":1},"encoding":{"x":{"datum":0,"type":"quantitative","scale":{"domain":[0,3]},"axis":{"orient":"top","labels":false,"title":null,"values":[0,1,2,3],"domain":false}},"x2":{"datum":3},"y":{"datum":1,"type":"quantitative","scale":{"domain":[0,9]},"axis":{"orient":"right","labels":false,"title":null,"values":[0,2,4,6,8],"domain":false}}}},
 {"data":{"name":"B1"},"mark":{"type":"line","strokeWidth":3},"encoding":{"x":{"field":"x","type":"quantitative","scale":{"domain":[0,3]},"axis":{"values":[0,1,2,3],"title":null}},"y":{"field":"y","type":"quantitative","scale":{"domain":[0,9]},"axis":{"values":[0,2,4,6,8],"title":"Cμ","titlePadding":19}},"color":{"field":"u","type":"nominal","scale":{"domain":["μ=2","μ=4","μ=6","μ=8"],"range":["#22ee22","#ff00ff","#0000ff","#ff0000"]},"legend":null}}}
 ],"resolve":{"axis":{"x":"independent","y":"independent"}}},
{"width":165,"height":162,"layer":[
 {"data":{"values":[{}]},"mark":{"type":"rule","color":"#999999","strokeDash":[5,4],"strokeWidth":1},"encoding":{"x":{"datum":0,"type":"quantitative","scale":{"domain":[0,3]},"axis":{"orient":"top","labels":false,"title":null,"values":[0,1,2,3],"domain":false}},"x2":{"datum":3},"y":{"datum":1,"type":"quantitative","scale":{"domain":[0,9]},"axis":{"orient":"right","labels":false,"title":null,"values":[0,2,4,6,8],"domain":false}}}},
 {"data":{"name":"B2"},"mark":{"type":"line","strokeWidth":3},"encoding":{"x":{"field":"x","type":"quantitative","scale":{"domain":[0,3]},"axis":{"values":[0,1,2,3],"title":null}},"y":{"field":"y","type":"quantitative","scale":{"domain":[0,9]},"axis":{"values":[0,2,4,6,8],"title":null}},"color":{"field":"u","type":"nominal","scale":{"domain":["μ=2","μ=4","μ=6","μ=8"],"range":["#22ee22","#ff00ff","#0000ff","#ff0000"]},"legend":null}}}
 ],"resolve":{"axis":{"x":"independent","y":"independent"}}},
{"width":165,"height":162,"layer":[
 {"data":{"values":[{}]},"mark":{"type":"rule","color":"#999999","strokeDash":[5,4],"strokeWidth":1},"encoding":{"x":{"datum":0,"type":"quantitative","scale":{"domain":[0,3]},"axis":{"orient":"top","labels":false,"title":null,"values":[0,1,2,3],"domain":false}},"x2":{"datum":3},"y":{"datum":1,"type":"quantitative","scale":{"domain":[0,9]},"axis":{"orient":"right","labels":false,"title":null,"values":[0,2,4,6,8],"domain":false}}}},
 {"data":{"name":"B3"},"mark":{"type":"line","strokeWidth":3},"encoding":{"x":{"field":"x","type":"quantitative","scale":{"domain":[0,3]},"axis":{"values":[0,1,2,3],"title":null}},"y":{"field":"y","type":"quantitative","scale":{"domain":[0,9]},"axis":{"values":[0,2,4,6,8],"title":null}},"color":{"field":"u","type":"nominal","scale":{"domain":["μ=2","μ=4","μ=6","μ=8"],"range":["#22ee22","#ff00ff","#0000ff","#ff0000"]},"legend":null}}}
 ],"resolve":{"axis":{"x":"independent","y":"independent"}}},
{"width":165,"height":162,"layer":[
 {"data":{"values":[{}]},"mark":{"type":"rule","color":"#999999","strokeDash":[5,4],"strokeWidth":1},"encoding":{"x":{"datum":0,"type":"quantitative","scale":{"domain":[0,3]},"axis":{"orient":"top","labels":false,"title":null,"values":[0,1,2,3],"domain":false}},"x2":{"datum":3},"y":{"datum":1,"type":"quantitative","scale":{"domain":[0,9]},"axis":{"orient":"right","labels":false,"title":"Pulse B","titleAngle":270,"titleBaseline":"top","titleFontSize":20,"titlePadding":2,"values":[0,2,4,6,8],"domain":false}}}},
 {"data":{"name":"B4"},"mark":{"type":"line","strokeWidth":3},"encoding":{"x":{"field":"x","type":"quantitative","scale":{"domain":[0,3]},"axis":{"values":[0,1,2,3],"title":null}},"y":{"field":"y","type":"quantitative","scale":{"domain":[0,9]},"axis":{"values":[0,2,4,6,8],"title":null}},"color":{"field":"u","type":"nominal","scale":{"domain":["μ=2","μ=4","μ=6","μ=8"],"range":["#22ee22","#ff00ff","#0000ff","#ff0000"]},"legend":null}}}
 ],"resolve":{"axis":{"x":"independent","y":"independent"}}},
{"width":165,"height":162,"layer":[
 {"data":{"values":[{}]},"mark":{"type":"rule","color":"#999999","strokeDash":[5,4],"strokeWidth":1},"encoding":{"x":{"datum":0,"type":"quantitative","scale":{"domain":[0,3]},"axis":{"orient":"top","labels":false,"title":null,"values":[0,1,2,3],"domain":false}},"x2":{"datum":3},"y":{"datum":1,"type":"quantitative","scale":{"domain":[0,9]},"axis":{"orient":"right","labels":false,"title":null,"values":[0,2,4,6,8],"domain":false}}}},
 {"data":{"name":"C1"},"mark":{"type":"line","strokeWidth":3},"encoding":{"x":{"field":"x","type":"quantitative","scale":{"domain":[0,3]},"axis":{"values":[0,1,2,3],"title":"T / Tₚ","titlePadding":3}},"y":{"field":"y","type":"quantitative","scale":{"domain":[0,9]},"axis":{"values":[0,2,4,6,8],"title":"Cμ","titlePadding":19}},"color":{"field":"u","type":"nominal","scale":{"domain":["μ=2","μ=4","μ=6","μ=8"],"range":["#22ee22","#ff00ff","#0000ff","#ff0000"]},"legend":null}}}
 ],"resolve":{"axis":{"x":"independent","y":"independent"}}},
{"width":165,"height":162,"layer":[
 {"data":{"values":[{}]},"mark":{"type":"rule","color":"#999999","strokeDash":[5,4],"strokeWidth":1},"encoding":{"x":{"datum":0,"type":"quantitative","scale":{"domain":[0,3]},"axis":{"orient":"top","labels":false,"title":null,"values":[0,1,2,3],"domain":false}},"x2":{"datum":3},"y":{"datum":1,"type":"quantitative","scale":{"domain":[0,9]},"axis":{"orient":"right","labels":false,"title":null,"values":[0,2,4,6,8],"domain":false}}}},
 {"data":{"name":"C2"},"mark":{"type":"line","strokeWidth":3},"encoding":{"x":{"field":"x","type":"quantitative","scale":{"domain":[0,3]},"axis":{"values":[0,1,2,3],"title":"T / Tₚ","titlePadding":3}},"y":{"field":"y","type":"quantitative","scale":{"domain":[0,9]},"axis":{"values":[0,2,4,6,8],"title":null}},"color":{"field":"u","type":"nominal","scale":{"domain":["μ=2","μ=4","μ=6","μ=8"],"range":["#22ee22","#ff00ff","#0000ff","#ff0000"]},"legend":null}}}
 ],"resolve":{"axis":{"x":"independent","y":"independent"}}},
{"width":165,"height":162,"layer":[
 {"data":{"values":[{}]},"mark":{"type":"rule","color":"#999999","strokeDash":[5,4],"strokeWidth":1},"encoding":{"x":{"datum":0,"type":"quantitative","scale":{"domain":[0,3]},"axis":{"orient":"top","labels":false,"title":null,"values":[0,1,2,3],"domain":false}},"x2":{"datum":3},"y":{"datum":1,"type":"quantitative","scale":{"domain":[0,9]},"axis":{"orient":"right","labels":false,"title":null,"values":[0,2,4,6,8],"domain":false}}}},
 {"data":{"name":"C3"},"mark":{"type":"line","strokeWidth":3},"encoding":{"x":{"field":"x","type":"quantitative","scale":{"domain":[0,3]},"axis":{"values":[0,1,2,3],"title":"T / Tₚ","titlePadding":3}},"y":{"field":"y","type":"quantitative","scale":{"domain":[0,9]},"axis":{"values":[0,2,4,6,8],"title":null}},"color":{"field":"u","type":"nominal","scale":{"domain":["μ=2","μ=4","μ=6","μ=8"],"range":["#22ee22","#ff00ff","#0000ff","#ff0000"]},"legend":null}}}
 ],"resolve":{"axis":{"x":"independent","y":"independent"}}},
{"width":165,"height":162,"layer":[
 {"data":{"values":[{}]},"mark":{"type":"rule","color":"#999999","strokeDash":[5,4],"strokeWidth":1},"encoding":{"x":{"datum":0,"type":"quantitative","scale":{"domain":[0,3]},"axis":{"orient":"top","labels":false,"title":null,"values":[0,1,2,3],"domain":false}},"x2":{"datum":3},"y":{"datum":1,"type":"quantitative","scale":{"domain":[0,9]},"axis":{"orient":"right","labels":false,"title":"Pulse C","titleAngle":270,"titleBaseline":"top","titleFontSize":20,"titlePadding":2,"values":[0,2,4,6,8],"domain":false}}}},
 {"data":{"name":"C4"},"mark":{"type":"line","strokeWidth":3},"encoding":{"x":{"field":"x","type":"quantitative","scale":{"domain":[0,3]},"axis":{"values":[0,1,2,3],"title":"T / Tₚ","titlePadding":3}},"y":{"field":"y","type":"quantitative","scale":{"domain":[0,9]},"axis":{"values":[0,2,4,6,8],"title":null}},"color":{"field":"u","type":"nominal","scale":{"domain":["μ=2","μ=4","μ=6","μ=8"],"range":["#22ee22","#ff00ff","#0000ff","#ff0000"]},"legend":null}}}
 ],"resolve":{"axis":{"x":"independent","y":"independent"}}}
]
}
